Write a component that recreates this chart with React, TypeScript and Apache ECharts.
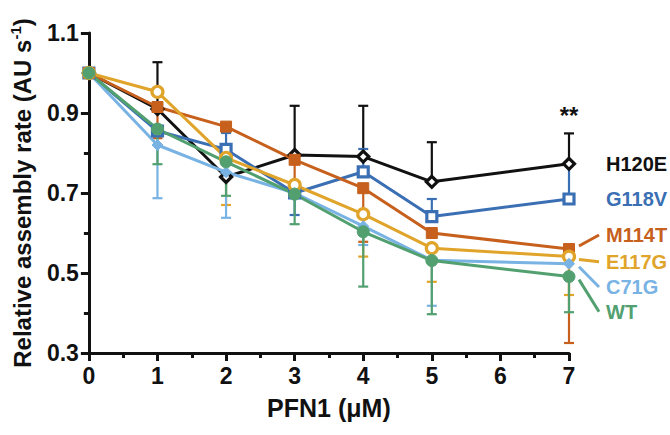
import React, { useEffect, useRef } from "react";
import * as echarts from "echarts";

const xValues = [0, 1, 2, 3, 4, 5, 7];
const seriesNames = ["H120E", "G118V", "M114T", "E117G", "C71G", "WT"];
const h120e = [1.0, 0.91, 0.74, 0.795, 0.791, 0.728, 0.773];
const g118v = [1.0, 0.855, 0.809, 0.7, 0.753, 0.641, 0.685];
const m114t = [1.0, 0.915, 0.866, 0.783, 0.712, 0.6, 0.56];
const e117g = [1.0, 0.953, 0.788, 0.72, 0.647, 0.562, 0.541];
const c71g = [1.0, 0.82, 0.752, 0.7, 0.617, 0.532, 0.523];
const wt = [1.0, 0.86, 0.778, 0.697, 0.603, 0.531, 0.491];

// error bar end values (one-sided as visible), null = not visible
const h120eErr = [null, 1.027, null, 0.918, 0.918, 0.827, 0.849];
const g118vErr = [null, null, 0.85, 0.645, 0.81, 0.685, 0.77];
const m114tErr = [null, 0.837, null, 0.72, 0.578, null, 0.325];
const e117gErr = [null, null, 0.67, null, 0.541, 0.478, 0.445];
const c71gErr = [null, 0.687, 0.638, null, 0.57, 0.418, null];
const wtErr = [null, 0.772, 0.693, 0.622, 0.466, 0.397, 0.402];

// end-label anchors (y value where each name label sits)
const labelAnchor = [0.773, 0.685, 0.595, 0.528, 0.465, 0.403];
const yTicks = [0.3, 0.5, 0.7, 0.9, 1.1];
const xTicks = [0, 1, 2, 3, 4, 5, 6, 7];
const significance = "**";
const significanceY = 0.895;

const allValues = [h120e, g118v, m114t, e117g, c71g, wt];
const allErrs = [h120eErr, g118vErr, m114tErr, e117gErr, c71gErr, wtErr];
const colors = ["#111111", "#3b6fb4", "#c6601c", "#e0a42a", "#78b3e4", "#52a070"];
const symbols = ["diamond", "rect", "rect", "circle", "diamond", "circle"];
const hollow = [true, true, false, true, false, false];
const symbolSizes = [11, 10, 11, 11, 11, 12];

const FONT = "'Liberation Sans', Arial, sans-serif";

export default function App() {
  const ref = useRef<HTMLDivElement>(null);
  useEffect(() => {
    if (!ref.current) return;
    const chart = echarts.init(ref.current, undefined, { renderer: "svg" });

    const errSeries = allErrs.map((errs, si) => ({
      type: "custom",
      name: seriesNames[si] + " err",
      z: 1,
      data: errs
        .map((e, i) => (e === null ? null : [xValues[i], allValues[si][i], e]))
        .filter((d) => d !== null),
      renderItem: (params: any, api: any) => {
        const x = api.value(0);
        const p0 = api.coord([x, api.value(1)]);
        const p1 = api.coord([x, api.value(2)]);
        const style = { stroke: colors[si], lineWidth: 2.2 };
        return {
          type: "group",
          children: [
            { type: "line", shape: { x1: p0[0], y1: p0[1], x2: p1[0], y2: p1[1] }, style },
            { type: "line", shape: { x1: p1[0] - 5, y1: p1[1], x2: p1[0] + 5, y2: p1[1] }, style },
          ],
        };
      },
    }));

    const lineSeries = allValues.map((vals, si) => ({
      type: "line",
      name: seriesNames[si],
      z: 3,
      data: vals.map((v, i) => [xValues[i], v]),
      symbol: symbols[si],
      symbolSize: symbolSizes[si],
      showAllSymbol: true,
      lineStyle: { color: colors[si], width: 3 },
      itemStyle: hollow[si]
        ? { color: "#ffffff", borderColor: colors[si], borderWidth: 3.2 }
        : { color: colors[si], borderColor: colors[si], borderWidth: 1 },
    }));

    const lastX = xValues[xValues.length - 1];
    const labelSeries = {
      type: "custom",
      name: "labels",
      z: 5,
      clip: false,
      data: seriesNames.map((n, i) => [lastX, allValues[i][allValues[i].length - 1], labelAnchor[i]]),
      renderItem: (params: any, api: any) => {
        const i = params.dataIndex;
        const pData = api.coord([api.value(0), api.value(1)]);
        const pLab = api.coord([api.value(0), api.value(2)]);
        const children: any[] = [
          {
            type: "text",
            x: pData[0] + 37,
            y: pLab[1],
            style: {
              text: seriesNames[i],
              fill: colors[i],
              font: `bold 20px ${FONT}`,
              verticalAlign: "middle",
              align: "left",
            },
          },
        ];
        if (Math.abs(pLab[1] - pData[1]) > 3) {
          children.push({
            type: "line",
            shape: { x1: pData[0] + 10, y1: pData[1] + (pLab[1] > pData[1] ? 3 : -3), x2: pData[0] + 30, y2: pLab[1] },
            style: { stroke: colors[i], lineWidth: 3 },
          });
        }
        return { type: "group", children };
      },
    };

    const sigSeries = {
      type: "custom",
      name: "sig",
      z: 5,
      clip: false,
      data: [[lastX, significanceY]],
      renderItem: (params: any, api: any) => {
        const p = api.coord([api.value(0), api.value(1)]);
        return {
          type: "text",
          x: p[0],
          y: p[1],
          style: { text: significance, fill: "#111", font: `bold 24px ${FONT}`, align: "center", verticalAlign: "middle" },
        };
      },
    };

    const axisLabelStyle = { color: "#111", fontSize: 23, fontWeight: "bold", fontFamily: FONT };

    chart.setOption({
      animation: false,
      backgroundColor: "#ffffff",
      grid: { left: 87, top: 33, right: 101, bottom: 82, containLabel: false },
      xAxis: {
        type: "value",
        min: xTicks[0],
        max: xTicks[xTicks.length - 1],
        interval: 1,
        name: "PFN1 (\u03bcM)",
        nameLocation: "middle",
        nameGap: 42,
        nameTextStyle: { color: "#111", fontSize: 25, fontWeight: "bold", fontFamily: FONT },
        axisLine: { show: true, onZero: false, lineStyle: { color: "#111", width: 3 } },
        axisTick: { show: true, length: 8, lineStyle: { color: "#111", width: 3 } },
        minorTick: { show: true, splitNumber: 2, length: 5, lineStyle: { color: "#111", width: 3 } },
        axisLabel: { ...axisLabelStyle, margin: 11 },
        splitLine: { show: false },
      },
      yAxis: {
        type: "value",
        min: yTicks[0],
        max: yTicks[yTicks.length - 1],
        interval: 0.2,
        name: "Relative assembly rate (AU s{sup|-1})",
        nameLocation: "middle",
        nameGap: 52,
        nameRotate: 90,
        nameTextStyle: {
          color: "#111",
          fontSize: 24,
          fontWeight: "bold",
          fontFamily: FONT,
          lineHeight: 28,
          rich: {
            sup: { fontSize: 15, fontWeight: "bold", fontFamily: FONT, color: "#111", verticalAlign: "top", lineHeight: 16 },
          },
        },
        axisLine: { show: true, onZero: false, lineStyle: { color: "#111", width: 3 } },
        axisTick: { show: true, length: 8, lineStyle: { color: "#111", width: 3 } },
        minorTick: { show: true, splitNumber: 2, length: 5, lineStyle: { color: "#111", width: 3 } },
        axisLabel: { ...axisLabelStyle, margin: 10, formatter: (v: number) => v.toFixed(1) },
        splitLine: { show: false },
      },
      series: [...errSeries, ...lineSeries, labelSeries, sigSeries],
    });
    return () => chart.dispose();
  }, []);
  return <div ref={ref} style={{ position: "fixed", left: 0, top: 0, width: 670, height: 435 }} />;
}
